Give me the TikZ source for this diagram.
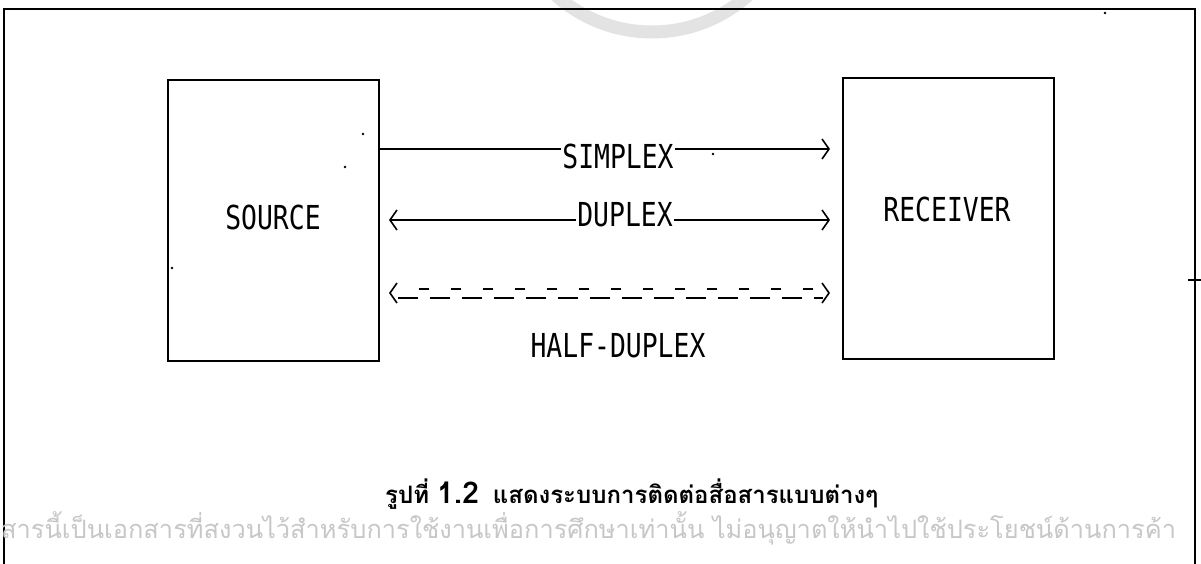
\documentclass[tikz,border=0pt]{standalone}
\usepackage{fontspec}
\usetikzlibrary{arrows.meta}
\newfontfamily\plotter[FakeStretch=0.8]{DejaVu Sans Mono}
\newfontfamily\thaifont[Script=Thai]{Loma}
\begin{document}
\begin{tikzpicture}[x=1pt,y=-1pt,
  box/.style={draw, line width=1.8pt, inner sep=0pt, anchor=north west,
              minimum width=211pt, minimum height=281pt},
  plot/.style={font=\plotter\fontsize{33}{36}\selectfont, inner sep=0pt},
  linelabel/.style={plot, fill=white, inner xsep=1pt, inner ysep=0pt},
  conn/.style={line width=1.4pt},
  tip/.style={-{Straight Barb[length=7pt,width=20pt,line width=1.6pt]}},
  tips/.style={{Straight Barb[length=7pt,width=20pt,line width=1.6pt]}-{Straight Barb[length=7pt,width=20pt,line width=1.6pt]}},
  speck/.style={fill=black, draw=none, circle, inner sep=0pt, minimum size=2.6pt},
  wmark/.style={black!11}
]
\useasboundingbox (0,0) rectangle (1201,564);
\clip (0,0) rectangle (1201,564);
\fill[white] (0,0) rectangle (1201,564);

% faint watermark ring at the top
\draw[wmark, line width=13pt] (652,-112) circle[radius=144];

% outer frame (open at the bottom)
\draw[line width=2.2pt] (4,570) -- (4,9) -- (1195,9) -- (1195,570);
\draw[line width=1.2pt] (1188,280) -- (1201,280);

% boxes
\node[box] (src) at (167,79) {};
\node[box] (rcv) at (842,77) {};
\node[plot] (srclabel) at (273,217) {SOURCE};
\node[plot] (rcvlabel) at (947,209) {RECEIVER};

% SIMPLEX
\coordinate (s1) at (src.east |- 0,149);
\coordinate (s2) at (830,149);
\draw[conn, tip] (s1) -- (s2);
\node[linelabel] (simplex) at (618,156) {SIMPLEX};

% DUPLEX
\coordinate (d1) at (389,220);
\coordinate (d2) at (830,220);
\draw[conn, tips] (d1) -- (d2);
\node[linelabel] (duplex) at (625,215) {DUPLEX};

% HALF-DUPLEX
\coordinate (h1) at (389,293);
\coordinate (h2) at (830,293);
\draw[conn, tips, dash pattern=on 0pt off 2000pt] (h1) -- (h2);
\draw[conn, dash pattern=on 20pt off 12pt]
  ([xshift=9pt, yshift=-5pt]h1) -- ([xshift=-7pt, yshift=-5pt]h2);
\draw[conn, dash pattern=on 10pt off 22pt, dash phase=11pt]
  ([xshift=9pt, yshift=4pt]h1) -- ([xshift=-7pt, yshift=4pt]h2);
\node[plot] (halfduplex) at (618,346) {HALF-DUPLEX};

% specks
\node[speck] (p1) at (363,134) {};
\node[speck] (p2) at (345,167) {};
\node[speck] (p3) at (172,268) {};
\node[speck] (p4) at (713,154) {};
\node[speck] (p5) at (1105,13) {};

% caption
\node[font=\thaifont\bfseries\fontsize{24}{28}\selectfont, anchor=base west, inner sep=0pt] (caption)
  at (385,503) {รูปที่ {\fontsize{30}{30}\selectfont 1.2}\hspace{14pt}แสดงระบบการติดต่อสื่อสารแบบต่างๆ};

% bottom watermark text
\node[font=\thaifont\fontsize{25.4}{30}\selectfont, text=black!22, anchor=base west, inner sep=0pt] (wmtext)
  at (1,538) {สารนี้เป็นเอกสารที่สงวนไว้สำหรับการใช้งานเพื่อการศึกษาเท่านั้น ไม่อนุญาตให้นำไปใช้ประโยชน์ด้านการค้า};
\end{tikzpicture}
\end{document}
